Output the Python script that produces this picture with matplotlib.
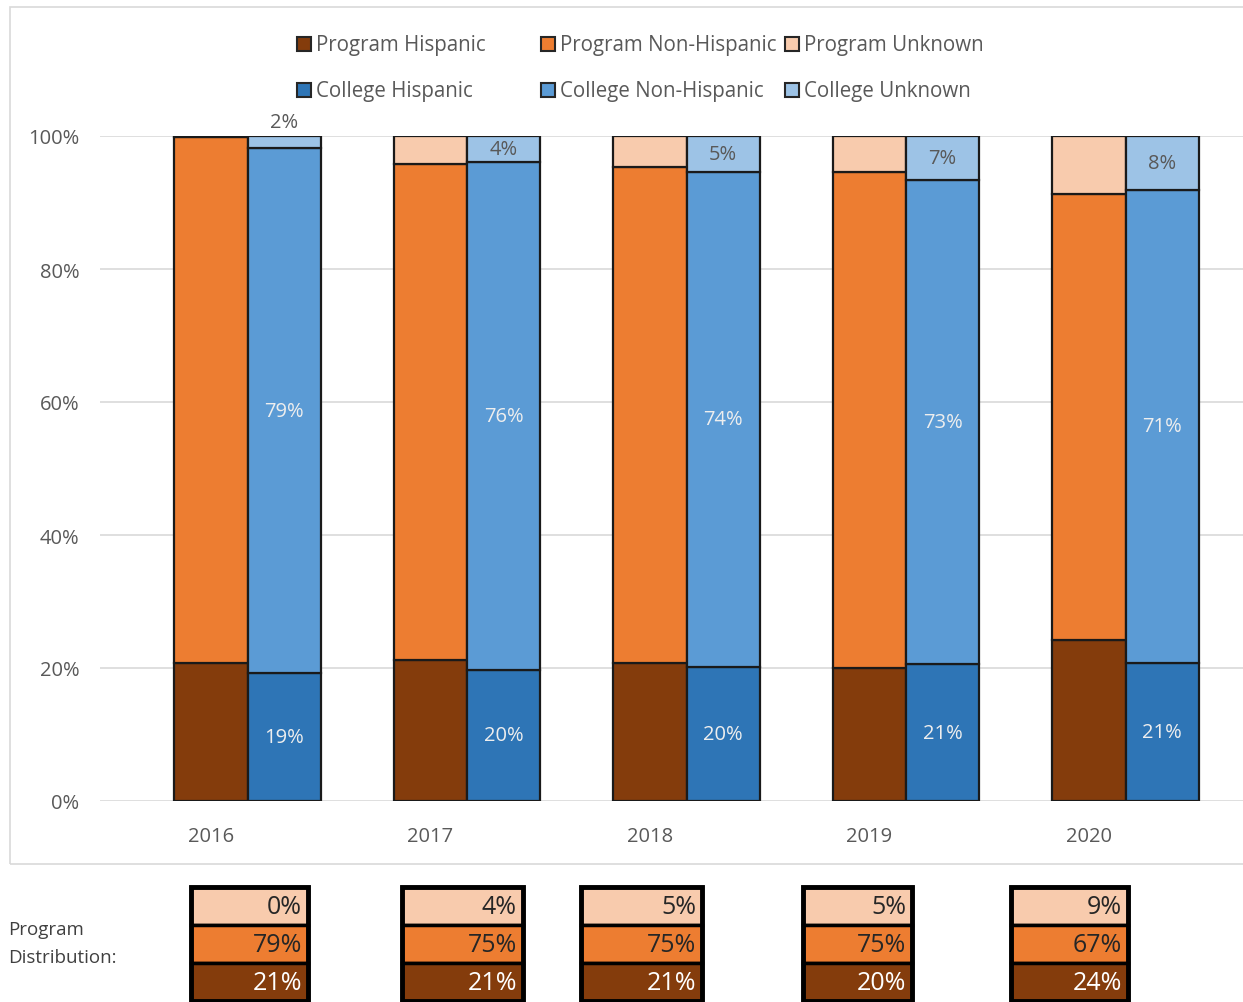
import matplotlib

matplotlib.use("Agg")
import matplotlib.pyplot as plt
from matplotlib.patches import Rectangle
import numpy as np

plt.rcParams["font.family"] = ["Open Sans", "DejaVu Sans"]

years = ["2016", "2017", "2018", "2019", "2020"]

program_hispanic = [20.8, 21.2, 20.8, 20.0, 24.2]
program_non_hispanic = [79.0, 74.6, 74.6, 74.6, 67.1]
program_unknown = [0.2, 4.2, 4.6, 5.4, 8.7]

college_hispanic = [19.2, 19.7, 20.2, 20.6, 20.8]
college_non_hispanic = [79.0, 76.4, 74.4, 72.8, 71.1]
college_unknown = [1.8, 3.9, 5.4, 6.6, 8.1]

C_PH, C_PN, C_PU = "#843C0C", "#ED7D31", "#F8CBAD"
C_CH, C_CN, C_CU = "#2E75B6", "#5B9BD5", "#9DC3E6"
GREY_TXT = "#595959"
EDGE = "#1a1a1a"

W, H = 1243, 1003
fig = plt.figure(figsize=(W / 100, H / 100), dpi=100)

# chart frame
fig.patches.append(Rectangle((10 / W, (H - 865) / H), 1.0, (865 - 8) / H,
                             transform=fig.transFigure, fill=False,
                             edgecolor="#d9d9d9", linewidth=1.2))

ax = fig.add_axes([100 / W, (H - 802) / H, (W - 100) / W, 665 / H])
ax.set_facecolor("none")

x = np.arange(len(years))
bw = 0.333
px_per_unit = 219.5
ax.set_xlim(-111 / px_per_unit, (W - 211) / px_per_unit)
ax.set_ylim(0, 100)

bar_kw = dict(width=bw, edgecolor=EDGE, linewidth=1.6, align="center", zorder=3)

ph = np.array(program_hispanic)
pn = np.array(program_non_hispanic)
pu = np.array(program_unknown)
ch = np.array(college_hispanic)
cn = np.array(college_non_hispanic)
cu = np.array(college_unknown)

ax.bar(x, ph, color=C_PH, **bar_kw)
ax.bar(x, pn, bottom=ph, color=C_PN, **bar_kw)
ax.bar(x, pu, bottom=ph + pn, color=C_PU, **bar_kw)

xc = x + bw
ax.bar(xc, ch, color=C_CH, **bar_kw)
ax.bar(xc, cn, bottom=ch, color=C_CN, **bar_kw)
ax.bar(xc, cu, bottom=ch + cn, color=C_CU, **bar_kw)

# data labels on the college bars
lbl = dict(ha="center", va="center", fontsize=14.5, zorder=4)
for i in range(len(years)):
    ax.text(xc[i], ch[i] / 2, f"{ch[i]:.0f}%", color="#eeeeee", **lbl)
    ax.text(xc[i], ch[i] + cn[i] / 2, f"{cn[i]:.0f}%", color="#eeeeee", **lbl)
    if cu[i] < 3:
        ax.text(xc[i], 100 + 2.1, f"{cu[i]:.0f}%", color=GREY_TXT, clip_on=False, **lbl)
    else:
        ax.text(xc[i], ch[i] + cn[i] + cu[i] / 2, f"{cu[i]:.0f}%", color=GREY_TXT, **lbl)

ax.set_yticks(np.arange(0, 101, 20))
ax.set_yticklabels([f"{v}%" for v in range(0, 101, 20)])
ax.set_xticks(x)
ax.set_xticklabels(years)
ax.tick_params(axis="both", length=0, colors=GREY_TXT, labelsize=14.5)
ax.tick_params(axis="y", pad=15)
ax.tick_params(axis="x", pad=18)
ax.grid(axis="y", color="#d9d9d9", linewidth=1.2, zorder=0)
for s in ax.spines.values():
    s.set_visible(False)

# overlay in pixel coordinates for the legend and the distribution table
ov = fig.add_axes([0, 0, 1, 1], zorder=5)
ov.set_xlim(0, W)
ov.set_ylim(H, 0)
ov.axis("off")
ov.patch.set_alpha(0)

legend_items = [
    ("Program Hispanic", C_PH, 297, 45), ("Program Non-Hispanic", C_PN, 541, 45),
    ("Program Unknown", C_PU, 785, 45), ("College Hispanic", C_CH, 297, 91),
    ("College Non-Hispanic", C_CN, 541, 91), ("College Unknown", C_CU, 785, 91),
]
for label, color, lx, ly in legend_items:
    ov.add_patch(Rectangle((lx, ly - 7), 14, 14, facecolor=color,
                           edgecolor="#262626", linewidth=1.5))
    ov.text(lx + 19, ly, label, ha="left", va="center", color=GREY_TXT, fontsize=14.8)

ov.text(8, 930, "Program", ha="left", va="center", color="#404040", fontsize=13.5)
ov.text(8, 958, "Distribution:", ha="left", va="center", color="#404040", fontsize=13.5)

box_left = [191, 402, 581, 803, 1011]
box_width = [117, 121, 121, 109, 117]
cell_top = [888, 926, 964]
cell_h = 38
for i in range(len(years)):
    bl, bwid = box_left[i], box_width[i]
    cells = [(pu[i], C_PU, "#262626"), (pn[i], C_PN, "#262626"), (ph[i], C_PH, "white")]
    for (val, fc, tc), top in zip(cells, cell_top):
        ov.add_patch(Rectangle((bl, top), bwid, cell_h, facecolor=fc,
                               edgecolor="black", linewidth=2.5))
        ov.text(bl + bwid - 6, top + cell_h / 2 + 1, f"{val:.0f}%", ha="right",
                va="center", color=tc, fontsize=18)
    ov.add_patch(Rectangle((bl, cell_top[0]), bwid, 3 * cell_h, fill=False,
                           edgecolor="black", linewidth=3.5))

fig.savefig("out.png", dpi=100)
